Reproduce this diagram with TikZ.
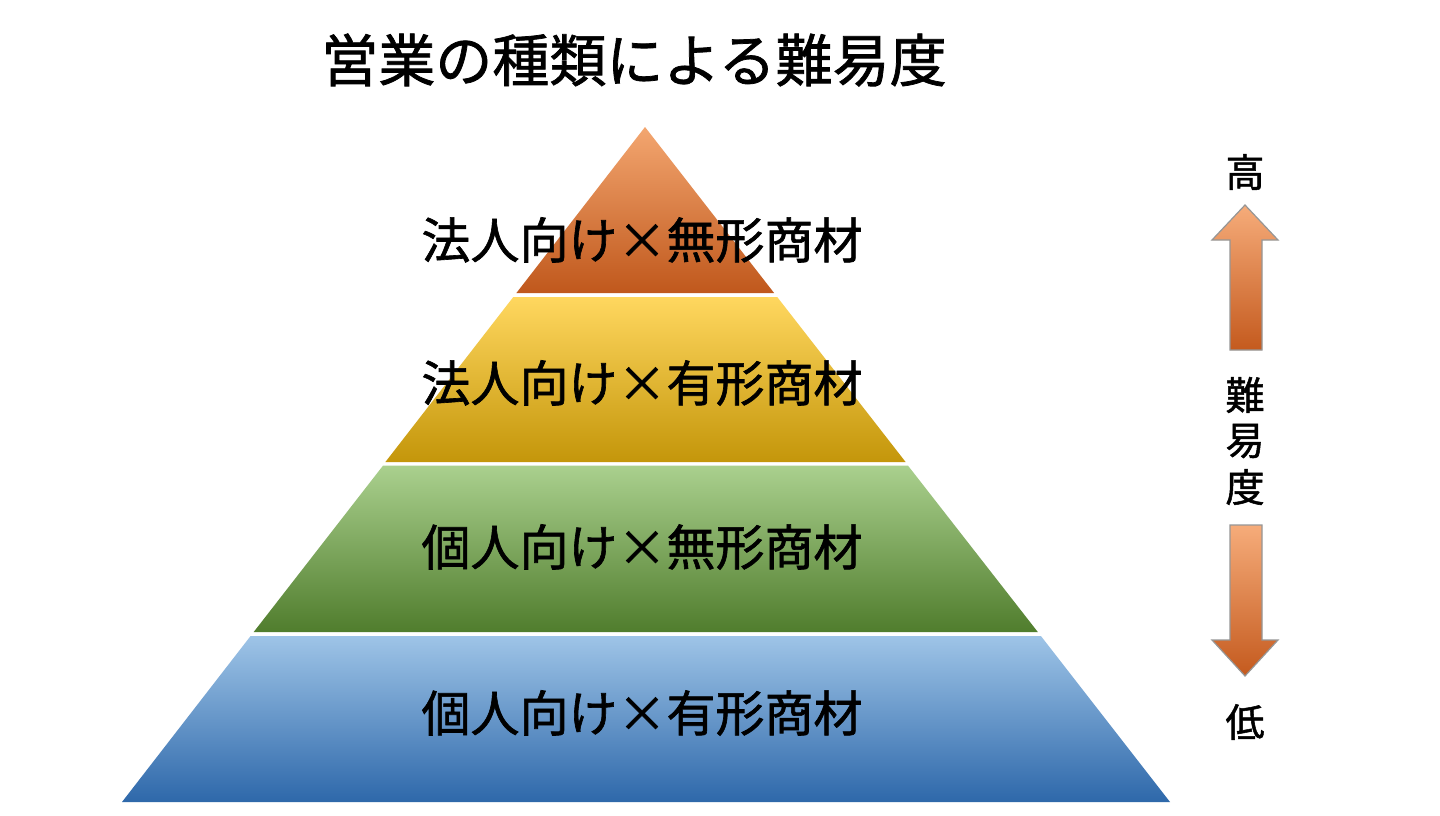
\documentclass[tikz,border=0pt]{standalone}
\usepackage{fontspec}
\setmainfont{Noto Sans CJK JP}[FakeBold=1.3]
\newfontfamily\medfont{Noto Sans CJK JP}[FakeBold=1.3]
\definecolor{orT}{RGB}{243,166,112}
\definecolor{orB}{RGB}{192,88,28}
\definecolor{yeT}{RGB}{255,215,95}
\definecolor{yeB}{RGB}{196,150,10}
\definecolor{grT}{RGB}{170,208,142}
\definecolor{grB}{RGB}{80,125,45}
\definecolor{blT}{RGB}{158,196,231}
\definecolor{blB}{RGB}{46,104,170}
\definecolor{arT}{RGB}{246,172,122}
\definecolor{arB}{RGB}{196,90,30}
\definecolor{arEdge}{RGB}{150,150,150}
\tikzset{
  lbl/.style={font=\medfont\fontsize{24.5}{30}\selectfont, text=black, inner sep=0pt},
  ttl/.style={font=\medfont\fontsize{28.5}{34}\selectfont, text=black, inner sep=0pt},
  side/.style={font=\medfont\fontsize{19.5}{24}\selectfont, text=black, inner sep=0pt},
  bigarrow/.style={draw=arEdge, line width=0.6pt, top color=arT, bottom color=arB}
}
\begin{document}
\begin{tikzpicture}[x=0.5pt,y=-0.5pt]
\useasboundingbox (0,0) rectangle (1440,815);
\fill[white] (0,0) rectangle (1440,815);
% pyramid layers
\shade[top color=orT, bottom color=orB] (645,127) -- (774.1,293) -- (516.4,293) -- cycle;
\shade[top color=yeT, bottom color=yeB] (513.3,297) -- (777.2,297) -- (905.6,462) -- (385.4,462) -- cycle;
\shade[top color=grT, bottom color=grB] (383.1,465.5) -- (907.9,465.5) -- (1037.8,632) -- (253.7,632) -- cycle;
\shade[top color=blT, bottom color=blB] (250.6,636) -- (1040.9,636) -- (1170,802) -- (122,802) -- cycle;
% labels
\node[ttl] (title) at (634,60) {営業の種類による難易度};
\node[lbl] (l1) at (642,240) {法人向け×無形商材};
\node[lbl] (l2) at (642,383) {法人向け×有形商材};
\node[lbl] (l3) at (642,547) {個人向け×無形商材};
\node[lbl] (l4) at (642,713) {個人向け×有形商材};
% side arrows
\path[bigarrow] (1245,205) -- (1278,240) -- (1262,240) -- (1262,350) -- (1230,350) -- (1230,240) -- (1212,240) -- cycle;
\path[bigarrow] (1230,525) -- (1262,525) -- (1262,640) -- (1278,640) -- (1245,676) -- (1212,640) -- (1230,640) -- cycle;
\node[side] (hi) at (1245,172) {高};
\node[side] (d1) at (1245,395) {難};
\node[side] (d2) at (1245,441) {易};
\node[side] (d3) at (1245,487) {度};
\node[side] (lo) at (1245,722) {低};
\end{tikzpicture}
\end{document}
